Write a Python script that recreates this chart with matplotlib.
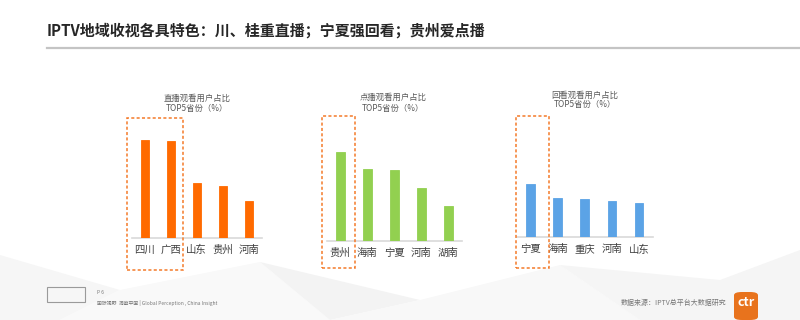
import matplotlib
matplotlib.use("Agg")
import matplotlib.pyplot as plt
from matplotlib.patches import Rectangle, FancyBboxPatch, Polygon
from matplotlib.lines import Line2D

plt.rcParams['font.family'] = ['Noto Sans CJK SC', 'DejaVu Sans']

title = "IPTV地域收视各具特色：川、桂重直播；宁夏强回看；贵州爱点播"

live_labels = ["四川", "广西", "山东", "贵州", "河南"]
live_values = [49, 48.5, 27.5, 26, 18.5]

vod_labels = ["贵州", "海南", "宁夏", "河南", "湖南"]
vod_values = [44.5, 36, 35.5, 26.5, 17.5]

replay_labels = ["宁夏", "海南", "重庆", "河南", "山东"]
replay_values = [26.5, 19.5, 19, 18, 17]

subtitles = ["直播观看用户占比\nTOP5省份（%）",
             "点播观看用户占比\nTOP5省份（%）",
             "回看观看用户占比\nTOP5省份（%）"]

W, H = 800, 320
fig = plt.figure(figsize=(8, 3.2), dpi=100)
fig.patch.set_facecolor("white")

def fx(px):
    return px / W

def fy(py):
    return 1 - py / H

# faint background polygons at the bottom
bg = fig.add_axes([0, 0, 1, 1], zorder=-10)
bg.set_xlim(0, W); bg.set_ylim(H, 0); bg.axis("off")
polys = [
    [(0, 320), (0, 255), (120, 290), (60, 320)],
    [(120, 290), (260, 262), (330, 320), (60, 320)],
    [(260, 262), (420, 300), (330, 320)],
    [(420, 300), (560, 265), (640, 320), (330, 320)],
    [(560, 265), (720, 280), (800, 250), (800, 320), (640, 320)],
]
shades = ["#f6f6f6", "#f9f9f9", "#f3f3f3", "#f8f8f8", "#f5f5f5"]
for p, c in zip(polys, shades):
    bg.add_patch(Polygon(p, closed=True, facecolor=c, edgecolor="none"))

# Title
fig.text(fx(47), fy(31), title, fontsize=10.8, fontweight="bold",
         color="#262626", va="center", ha="left")
fig.add_artist(Line2D([fx(47), fx(800)], [fy(47.5), fy(47.5)],
                      color="#c4c4c4", lw=1.6))

charts = [
    dict(labels=live_labels, values=live_values, color="#ff6a00",
         x0=131.7, x1=261.7, base=238, sub_x=196.7, sub_y=(98, 108),
         box=(126.7, 118, 183.3, 270)),
    dict(labels=vod_labels, values=vod_values, color="#92d050",
         x0=326.7, x1=461.7, base=241, sub_x=393, sub_y=(97, 108),
         box=(322.3, 116, 355, 268)),
    dict(labels=replay_labels, values=replay_values, color="#5ba3e6",
         x0=516.7, x1=652.7, base=237.3, sub_x=585, sub_y=(95, 105),
         box=(515.7, 116, 549, 268)),
]

for ch, sub in zip(charts, subtitles):
    ax = fig.add_axes([fx(ch["x0"]), fy(ch["base"]),
                       (ch["x1"] - ch["x0"]) / W, 120 / H])
    n = len(ch["labels"])
    ax.bar(range(n), ch["values"], width=0.32, color=ch["color"],
           edgecolor=ch["color"], linewidth=0.6, zorder=3)
    ax.set_xlim(-0.5, n - 0.5)
    ax.set_ylim(0, 60)
    ax.set_xticks(range(n))
    ax.set_xticklabels(ch["labels"], fontsize=7.5, color="#404040")
    ax.tick_params(axis="x", length=0, pad=5)
    ax.set_yticks([])
    for s in ["top", "right", "left"]:
        ax.spines[s].set_visible(False)
    ax.spines["bottom"].set_color("#d9d9d9")
    ax.spines["bottom"].set_linewidth(1.2)
    ax.patch.set_alpha(0)
    l1, l2 = sub.split("\n")
    fig.text(fx(ch["sub_x"]), fy(ch["sub_y"][0]), l1, fontsize=6,
             color="#595959", ha="center", va="center")
    fig.text(fx(ch["sub_x"]), fy(ch["sub_y"][1]), l2, fontsize=6,
             color="#595959", ha="center", va="center")
    bx0, by0, bx1, by1 = ch["box"]
    fig.add_artist(Rectangle((fx(bx0), fy(by1)), (bx1 - bx0) / W,
                             (by1 - by0) / H, fill=False,
                             edgecolor="#f47a2a", lw=1.1,
                             linestyle=(0, (2, 1.5)), zorder=5))

# Footer left
fig.add_artist(Rectangle((fx(47), fy(302)), 38 / W, 15 / H, fill=False,
                         edgecolor="#9a9a9a", lw=0.8))
fig.text(fx(97), fy(293), "P 6", fontsize=3.5, color="#777777", va="center")
fig.text(fx(97), fy(303), "国际视野  洞察中国 | Global Perception , China Insight",
         fontsize=3.5, color="#777777", va="center")

# Footer right
fig.text(fx(726), fy(303), "数据来源：IPTV总平台大数据研究", fontsize=5,
         color="#777777", ha="right", va="center")
fig.add_artist(FancyBboxPatch((fx(734), fy(320)), 24 / W, 28 / H,
                              boxstyle="round,pad=0,rounding_size=0.01",
                              facecolor="#e8731d", edgecolor="none"))
fig.text(fx(746), fy(303), "ctr", fontsize=9, fontweight="bold",
         color="white", ha="center", va="center")

fig.savefig("out.png", dpi=100)
